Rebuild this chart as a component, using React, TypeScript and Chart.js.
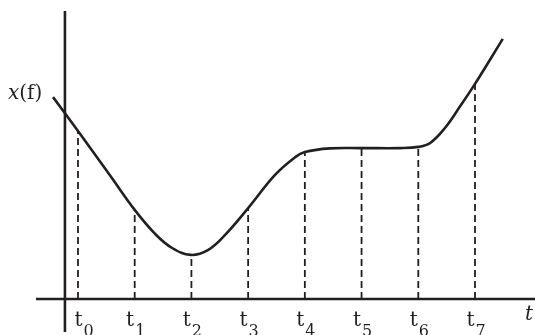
import React, { useEffect, useRef } from "react";
import { Chart, registerables } from "chart.js";

Chart.register(...registerables);

// ---- data ----
const tickTimes = [0, 1, 2, 3, 4, 5, 6, 7];
const tickSubscripts = ["0", "1", "2", "3", "4", "5", "6", "7"];
const dropHeights = [5.6, 2.97, 1.47, 3.03, 4.9, 5.03, 5.07, 7.17];

const curveT = [-0.44, 0, 0.56, 1.0, 1.36, 1.66, 1.99, 2.29, 2.59, 3.0, 3.47, 3.83, 4.0, 4.44, 4.99, 5.68, 6.0, 6.21, 6.47, 6.74, 7.0, 7.49];
const curveX = [6.73, 5.6, 4.13, 2.97, 2.17, 1.7, 1.47, 1.63, 2.13, 3.03, 4.13, 4.73, 4.9, 5.02, 5.03, 5.03, 5.07, 5.2, 5.7, 6.43, 7.17, 8.67];

const xAxisSpan = [-0.74, 8.06];
const yAxisPos = -0.23;
const yAxisSpan = [-1.1, 9.6];

const yLabelItalic = "x";
const yLabelRest = "(f)";
const xLabel = "t";
const tickLetter = "t";

const INK = "#231f20";
const SERIF = "'DejaVu Serif', 'Liberation Serif', serif";

export default function App() {
  const ref = useRef<HTMLCanvasElement | null>(null);

  useEffect(() => {
    const canvas = ref.current;
    if (!canvas) return;

    const drops = tickTimes.map((t, i) => ({
      type: "line" as const,
      data: [
        { x: t, y: 0 },
        { x: t, y: dropHeights[i] },
      ],
      borderColor: INK,
      borderWidth: 1.8,
      borderDash: [7, 4],
      pointRadius: 0,
      tension: 0,
    }));

    const labelPlugin = {
      id: "labels",
      afterDraw(chart: any) {
        const ctx = chart.ctx;
        const xs = chart.scales.x;
        const ys = chart.scales.y;
        ctx.save();
        ctx.fillStyle = INK;
        ctx.textBaseline = "alphabetic";
        ctx.textAlign = "left";
        const base = ys.getPixelForValue(0);
        tickTimes.forEach((t, i) => {
          const px = xs.getPixelForValue(t) + (i === 0 ? 6 : 1);
          ctx.font = `20px ${SERIF}`;
          const w1 = ctx.measureText(tickLetter).width;
          ctx.font = `16px ${SERIF}`;
          const w2 = ctx.measureText(tickSubscripts[i]).width;
          const start = px - (w1 + w2 + 1) / 2;
          ctx.font = `20px ${SERIF}`;
          ctx.fillText(tickLetter, start, base + 27);
          ctx.font = `16px ${SERIF}`;
          ctx.fillText(tickSubscripts[i], start + w1 + 1, base + 37);
        });
        // y label
        ctx.font = `italic 20px ${SERIF}`;
        const wx = ctx.measureText(yLabelItalic).width;
        ctx.fillText(yLabelItalic, 8, 99);
        ctx.font = `20px ${SERIF}`;
        ctx.fillText(yLabelRest, 8 + wx, 99);
        // x label
        ctx.font = `italic 20px ${SERIF}`;
        ctx.fillText(xLabel, 525, base + 21);
        ctx.restore();
      },
    };

    const chart = new Chart(canvas, {
      type: "line",
      data: {
        datasets: [
          {
            data: curveT.map((t, i) => ({ x: t, y: curveX[i] })),
            borderColor: INK,
            borderWidth: 2.6,
            pointRadius: 0,
            tension: 0.4,
          },
          ...drops,
          {
            data: [
              { x: xAxisSpan[0], y: 0 },
              { x: xAxisSpan[1], y: 0 },
            ],
            borderColor: INK,
            borderWidth: 2.6,
            pointRadius: 0,
          },
          {
            data: [
              { x: yAxisPos, y: yAxisSpan[0] },
              { x: yAxisPos, y: yAxisSpan[1] },
            ],
            borderColor: INK,
            borderWidth: 2.6,
            pointRadius: 0,
          },
        ] as any,
      },
      options: {
        animation: false,
        responsive: false,
        maintainAspectRatio: false,
        layout: { padding: 0 },
        events: [],
        plugins: {
          legend: { display: false },
          tooltip: { enabled: false },
        },
        scales: {
          x: { type: "linear", display: false, min: -1.375, max: 8.058 },
          y: { type: "linear", display: false, min: -1.2, max: 9.967 },
        },
      },
      plugins: [labelPlugin],
    });

    return () => chart.destroy();
  }, []);

  return (
    <div style={{ position: "fixed", left: 0, top: 0, width: 535, height: 335, background: "#fff" }}>
      <canvas ref={ref} width={535} height={335} style={{ display: "block", width: 535, height: 335 }} />
    </div>
  );
}
